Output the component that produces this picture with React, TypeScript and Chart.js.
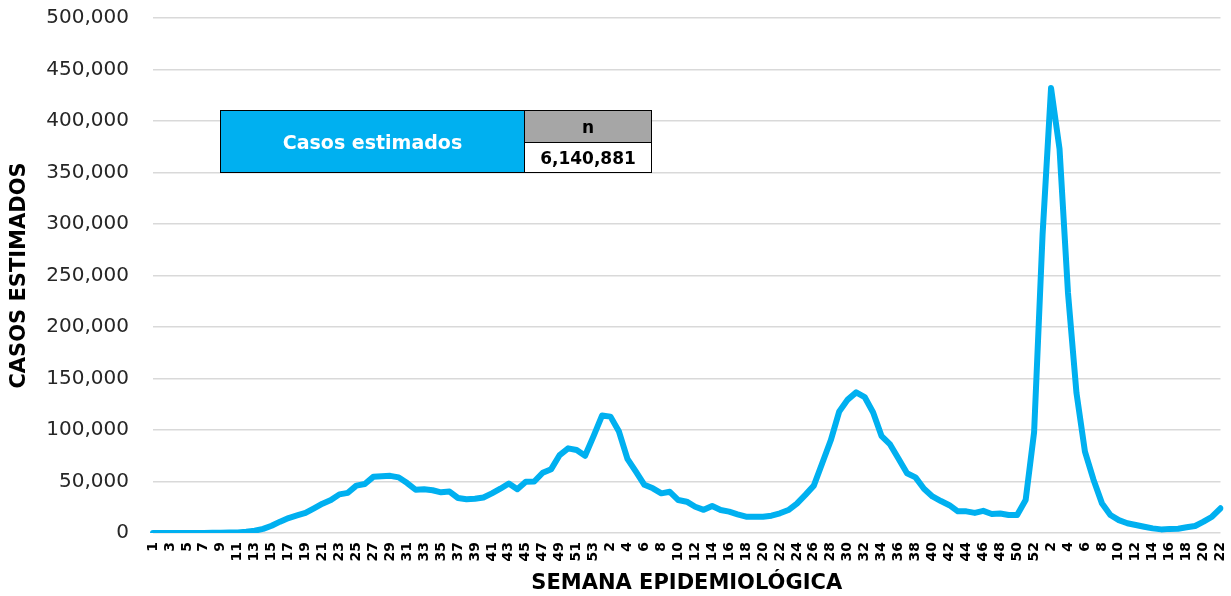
import React, { useEffect, useRef } from 'react';
import { Chart, registerables } from 'chart.js';

Chart.register(...registerables);

// Week labels (epidemiological weeks 2020, 2021, 2022)
const weeks2020 = ['1','2','3','4','5','6','7','8','9','10','11','12','13','14','15','16','17','18','19','20','21','22','23','24','25','26','27','28','29','30','31','32','33','34','35','36','37','38','39','40','41','42','43','44','45','46','47','48','49','50','51','52','53'];
const weeks2021 = ['1','2','3','4','5','6','7','8','9','10','11','12','13','14','15','16','17','18','19','20','21','22','23','24','25','26','27','28','29','30','31','32','33','34','35','36','37','38','39','40','41','42','43','44','45','46','47','48','49','50','51','52'];
const weeks2022 = ['1','2','3','4','5','6','7','8','9','10','11','12','13','14','15','16','17','18','19','20','21','22'];

// Estimated cases per week
const cases2020 = [0, 0, 0, 0, 0, 100, 100, 200, 300, 400, 600, 1200, 2200, 4000, 7000, 11000, 14500, 17000, 19500, 24000, 28500, 32000, 37500, 39000, 46000, 47500, 54500, 55000, 55500, 54000, 48500, 42000, 42500, 41500, 39500, 40200, 34000, 32800, 33300, 34500, 38500, 43000, 48000, 42500, 49800, 50000, 58500, 62000, 75700, 82200, 80600, 75000, 94000];
const cases2021 = [114000, 113000, 98500, 72000, 59500, 46800, 43400, 38500, 40000, 32000, 30400, 25500, 22500, 26200, 22300, 20700, 18100, 15800, 15800, 15800, 16800, 19100, 22300, 28500, 37000, 46000, 68000, 90000, 118000, 129500, 136500, 132000, 117000, 94000, 86000, 72000, 58000, 54000, 43000, 35500, 31000, 27000, 21000, 21000, 19500, 21500, 18500, 19000, 17500, 17500, 32000, 98000];
const cases2022 = [290000, 432000, 373000, 233000, 136000, 79000, 52000, 29000, 17500, 12500, 9500, 7800, 6100, 4500, 3500, 4000, 4200, 5500, 6800, 11000, 15800, 24000];

const yMin = 0;
const yMax = 500000;
const yStep = 50000;

const tableLabel = 'Casos estimados';
const tableHeader = 'n';
const tableValue = '6,140,881';

const FONT = "'DejaVu Sans', sans-serif";
const BLUE = '#00B0F0';

export default function App() {
  const ref = useRef<HTMLCanvasElement>(null);

  useEffect(() => {
    const labels = [...weeks2020, ...weeks2021, ...weeks2022];
    const values = [...cases2020, ...cases2021, ...cases2022];
    const chart = new Chart(ref.current as HTMLCanvasElement, {
      type: 'line',
      data: {
        labels,
        datasets: [
          {
            data: values,
            borderColor: BLUE,
            backgroundColor: BLUE,
            borderWidth: 6,
            borderCapStyle: 'round',
            borderJoinStyle: 'round',
            pointRadius: 0,
            tension: 0,
            fill: false,
          },
        ],
      },
      options: {
        animation: false,
        responsive: false,
        maintainAspectRatio: false,
        layout: { padding: { top: 18, right: 10, left: 0, bottom: 0 } },
        plugins: { legend: { display: false }, tooltip: { enabled: false } },
        scales: {
          x: {
            grid: { display: false, drawTicks: true, tickLength: 9, tickColor: 'rgba(0,0,0,0)' },
            border: { display: false },
            ticks: {
              autoSkip: false,
              minRotation: 90,
              maxRotation: 90,
              padding: 0,
              color: '#000',
              font: { family: FONT, size: 14, weight: 'bold', lineHeight: 0.75 },
              callback: function (this: any, value: any, index: number) {
                return index % 2 === 0 ? this.getLabelForValue(value) : '';
              },
            },
            title: {
              display: true,
              text: 'SEMANA EPIDEMIOLÓGICA',
              color: '#000',
              font: { family: FONT, size: 21, weight: 'bold' },
              padding: { top: 0, bottom: 0 },
            },
            afterFit: (scale: any) => {
              scale.height = 63;
            },
          },
          y: {
            min: yMin,
            max: yMax,
            grid: { color: '#D9D9D9', lineWidth: 1.5, drawTicks: true, tickLength: 22, tickColor: 'rgba(0,0,0,0)' },
            border: { display: false },
            ticks: {
              stepSize: yStep,
              padding: 2,
              color: '#262626',
              font: { family: FONT, size: 20 },
              callback: (v: any) => Number(v).toLocaleString('en-US'),
            },
            title: {
              display: true,
              text: 'CASOS ESTIMADOS',
              color: '#000',
              font: { family: FONT, size: 21, weight: 'bold' },
              padding: { top: 7, bottom: 0 },
            },
            afterFit: (scale: any) => {
              scale.width = 153;
            },
          },
        },
      },
    });
    return () => chart.destroy();
  }, []);

  return (
    <div style={{ position: 'fixed', left: 0, top: 0, width: 1231, height: 596, background: '#fff', fontFamily: FONT }}>
      <canvas ref={ref} width={1231} height={596} style={{ position: 'absolute', left: 0, top: 0, width: 1231, height: 596 }} />
      <div
        style={{
          position: 'absolute',
          left: 220,
          top: 110,
          width: 432,
          height: 63,
          border: '1px solid #000',
          boxSizing: 'border-box',
          display: 'flex',
        }}
      >
        <div
          style={{
            width: 303,
            height: '100%',
            background: BLUE,
            borderRight: '1px solid #000',
            display: 'flex',
            alignItems: 'center',
            justifyContent: 'center',
            color: '#fff',
            fontWeight: 'bold',
            fontSize: 19,
          }}
        >
          {tableLabel}
        </div>
        <div style={{ flex: 1, display: 'flex', flexDirection: 'column' }}>
          <div
            style={{
              height: 31,
              background: '#A6A6A6',
              borderBottom: '1px solid #000',
              display: 'flex',
              alignItems: 'center',
              justifyContent: 'center',
              color: '#000',
              fontWeight: 'bold',
              fontSize: 17,
            }}
          >
            {tableHeader}
          </div>
          <div
            style={{
              flex: 1,
              background: '#fff',
              display: 'flex',
              alignItems: 'center',
              justifyContent: 'center',
              color: '#000',
              fontWeight: 'bold',
              fontSize: 17,
            }}
          >
            {tableValue}
          </div>
        </div>
      </div>
    </div>
  );
}
